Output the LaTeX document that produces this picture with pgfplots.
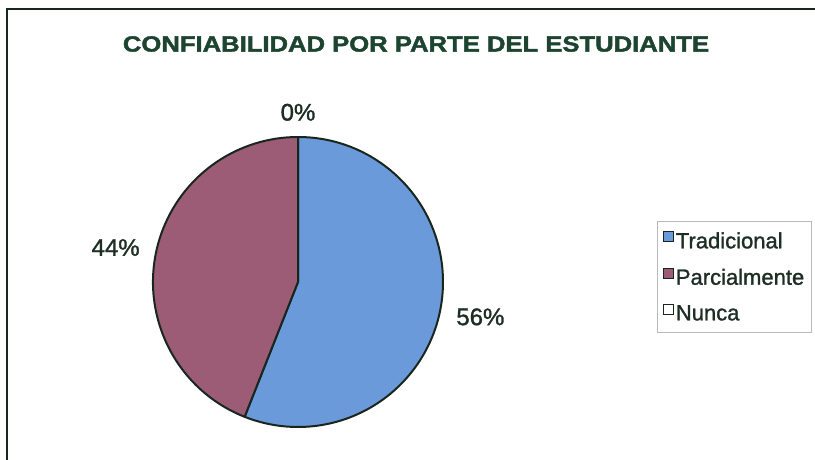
\documentclass[border=0pt]{standalone}
\usepackage{fontspec}
\setmainfont{Liberation Sans}
\newfontfamily\heavy[FakeBold=1.3]{Liberation Sans}
\newfontfamily\heavytitle[FakeBold=1.8]{Liberation Sans Bold}
\usepackage{graphicx}
\usepackage{pgfplots}
\pgfplotsset{compat=1.18}

\definecolor{trad}{HTML}{6A9ADA}
\definecolor{parc}{HTML}{9C5C75}
\definecolor{edge}{HTML}{18261E}
\definecolor{titlec}{HTML}{1D4431}
\definecolor{txt}{HTML}{1E2E26}

% porcentajes
\def\vTrad{56}
\def\vParc{44}
\def\vNunca{0}

% centro y radio (1 unidad = 1 px)
\def\cx{298}
\def\cy{178}
\def\R{145}
\pgfmathsetmacro\aA{90}
\pgfmathsetmacro\aB{\aA-3.6*\vTrad}
\pgfmathsetmacro\aC{\aB-3.6*\vParc}
\pgfmathsetmacro\aD{\aC-3.6*\vNunca}
\pgfmathsetmacro\mA{(\aA+\aB)/2}\pgfmathsetmacro\nA{\mA+180}
\pgfmathsetmacro\mB{(\aB+\aC)/2}\pgfmathsetmacro\nB{\mB+180}
\pgfmathsetmacro\mC{(\aC+\aD)/2}\pgfmathsetmacro\nC{\mC+180}

\begin{document}
\begin{tikzpicture}
\begin{axis}[
  x=1bp, y=1bp, xmin=0, xmax=815, ymin=0, ymax=460,
  hide axis, clip=false,
  legend image code/.code={\draw[#1,draw=edge,line width=1bp] (0bp,-0.5bp) rectangle (10bp,9.5bp);},
  legend style={at={(0.8061,0.5196)}, anchor=north west, draw=gray!55, line width=0.8bp,
    font=\heavy\fontsize{22bp}{26bp}\selectfont, text=txt, inner xsep=6bp, inner ysep=9bp,
    row sep=15bp, nodes={inner xsep=1.5bp}},
  legend cell align=left,
]
\addlegendimage{fill=trad}
\addlegendentry{Tradicional}
\addlegendimage{fill=parc}
\addlegendentry{Parcialmente}
\addlegendimage{fill=white}
\addlegendentry{Nunca}

% marco
\draw[edge, line width=2bp] (axis cs:7,0) -- (axis cs:7,451) -- (axis cs:815,451);

% titulo
\node[font=\heavytitle\fontsize{22bp}{26bp}\selectfont, text=titlec] at (axis cs:416,416)
  {\scalebox{1.165}[1]{CONFIABILIDAD POR PARTE DEL ESTUDIANTE}};

% sectores
\filldraw[fill=trad, draw=edge, line width=2bp, line join=round]
  (axis cs:\cx,\cy) -- ++(\aA:\R bp) arc[start angle=\aA, end angle=\aB, radius=\R bp] -- cycle;
\filldraw[fill=parc, draw=edge, line width=2bp, line join=round]
  (axis cs:\cx,\cy) -- ++(\aB:\R bp) arc[start angle=\aB, end angle=\aC, radius=\R bp] -- cycle;
\filldraw[fill=white, draw=edge, line width=2bp, line join=round]
  (axis cs:\cx,\cy) -- ++(\aC:\R bp) arc[start angle=\aC, end angle=\aD, radius=\R bp] -- cycle;

% etiquetas
\path (axis cs:\cx,\cy) ++(\mA:161bp)
  node[anchor=\nA, inner sep=0pt, text=txt, font=\heavy\fontsize{24bp}{28bp}\selectfont] {56\%};
\path (axis cs:\cx,\cy) ++(\mB:161bp)
  node[anchor=\nB, inner sep=0pt, text=txt, font=\heavy\fontsize{24bp}{28bp}\selectfont] {44\%};
\path (axis cs:\cx,\cy) ++(\mC:161bp)
  node[anchor=\nC, inner sep=0pt, text=txt, font=\heavy\fontsize{24bp}{28bp}\selectfont] {0\%};
\end{axis}
\pgfresetboundingbox
\path (0,0) rectangle (815bp,460bp);
\end{tikzpicture}
\end{document}
